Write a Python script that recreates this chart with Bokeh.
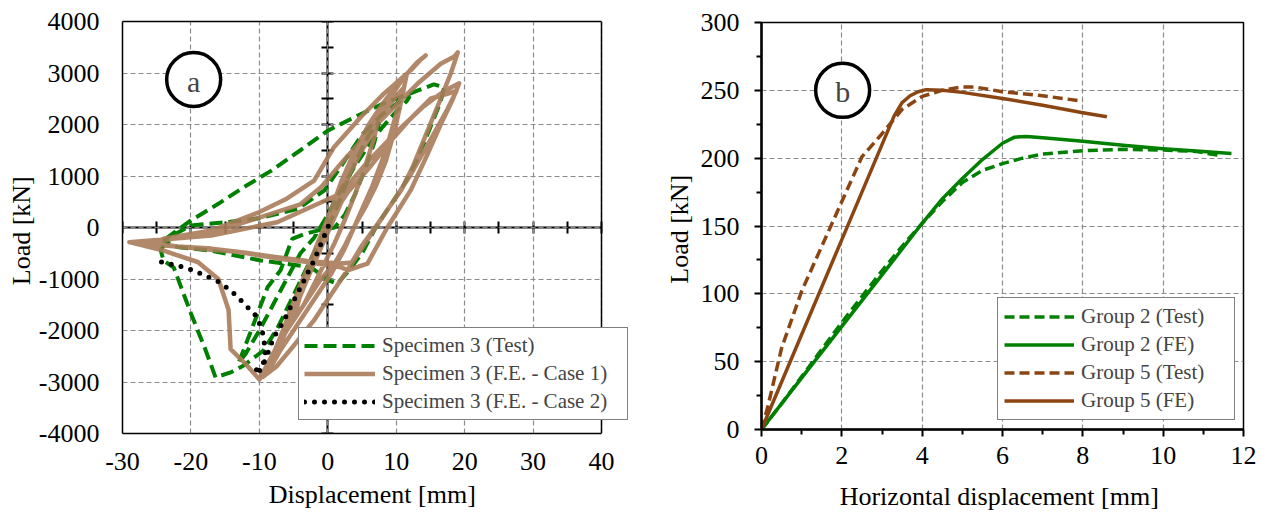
import numpy as np
from bokeh.plotting import figure
from bokeh.layouts import row
from bokeh.models import (LinearAxis, FixedTicker, Legend, LegendItem, Label, Range1d,
                          BoxAnnotation)
from bokeh.embed import file_html
from bokeh.resources import INLINE

FONT = "Liberation Serif"

# ---------------- Panel (a) data: hysteresis, Specimen 3 ----------------
test_disp = [0, 1.5, 3, 4.5, 6, 7.5,
             6.8, 5.5, 4, 2.5, 1, -1.5, -3.5, -5.2, -6.9, -8.8, -11.2, -13,
             -12, -10, -8, -6, -4, -2, 0, 2, 4, 6, 8, 10, 11.5, 12,
             10.5, 8, 5, 2, -0.5, -4.4, -10, -15, -20, -24,
             -22, -17, -9.8, -2.5, 0.2, 1.4, 3, 5, 7, 9, 11, 13, 15, 16.5, 17,
             15.5, 12, 8, 4.4, 0, -4, -8.3, -12.3, -16, -20, -23.4, -24.4, -24,
             -22.5, -20, -18, -16.4, -14.2, -12.3, -9.4, -7.3, -5.5, -3.5, -1.5, 0]
test_load = [0, 450, 950, 1400, 1800, 2050,
             1650, 1150, 650, 250, 0, -60, -130, -220, -830, -1160, -2000, -2620,
             -2450, -2000, -1500, -1000, -500, -200, 250, 750, 1200, 1600, 1950, 2250, 2450, 2550,
             2450, 2200, 1800, 1200, 720, 360, 180, 100, 40, -250,
             -380, -450, -640, -770, -1030, -1090, -850, -500, 0, 400, 800, 1300, 1950, 2450, 2720,
             2780, 2600, 2400, 2175, 1880, 1500, 1100, 780, 460, 136, -190, -450, -640,
             -780, -1670, -2330, -2910, -2815, -2680, -2390, -1940, -1450, -900, -350, 50]

fe1_disp = [0, 1.5, 3, 4.5, 6, 7.5,
            6.8, 5.5, 4, 2.5, 1, -0.5, -2, -3.5, -5,
            -4, -2.5, -1, 0.5, 2, 4, 6, 8, 10, 11.5,
            10.8, 9.8, 8.5, 7, 5.5, 4, 2.5, 1,
            -1, -3.5, -6, -8, -9.8,
            -8.5, -7, -5, -3, -1, 1, 3, 5, 8, 11, 13, 14.3,
            13.5, 12.1, 8.2, 4.8, 0.9, -2, -6, -10, -17, -24, -25.5,
            -22, -17, -12, -7.4, -3, 1.9, 3.5,
            5, 7.3, 9, 10.7, 12.5, 14.5, 16.5, 18, 19,
            18.5, 16.5, 13.1, 9.7, 5.8, 1.9, -1, -4, -9.8, -17, -24, -29,
            -23, -17, -13.2, -7.4, -3.5, 1.9, 2.9,
            5.8, 8.7, 12.1, 14.5, 16.5, 18.3, 19.2,
            17, 14, 10, 6, 1.9, -7.4, -17, -29,
            -24, -19, -16, -14.5, -14.2, -12, -10,
            -8.7, -7, -5, -3, -1, 1, 3, 5, 7,
            8.5, 10, 11,
            10, 8.5, 6.5, 4.5, 2.5, 0.5, -2, -4.5, -7, -8.5,
            -7, -5, -3, -1, 1, 3, 6, 9, 12, 15, 18.8,
            17.5, 15, 12, 9, 6, 4, 2, 0, -2, -5, -7.5, -9.5,
            -8, -6, -4, -2, 0, 2, 3.5]
fe1_load = [0, 450, 1000, 1450, 1850, 2200,
            1750, 1200, 650, 150, -300, -700, -1100, -1500, -1800,
            -1300, -750, -200, 350, 900, 1500, 2000, 2400, 2750, 2950,
            2500, 1900, 1300, 800, 400, 50, -350, -700,
            -1000, -1500, -2000, -2450, -2900,
            -2650, -2200, -1500, -800, -150, 500, 1100, 1650, 2300, 2900, 3200, 3340,
            3250, 3050, 2600, 2140, 1560, 910, 560, 300, -58, -220, -300,
            -370, -410, -490, -577, -650, -700, -680,
            -350, 70, 400, 720, 1200, 1850, 2500, 3000, 3400,
            3320, 3180, 2790, 2340, 1820, 1240, 780, 450, 200, -100, -250, -285,
            -360, -430, -470, -600, -660, -770, -830,
            -700, 0, 720, 1400, 2000, 2500, 2800,
            2650, 2350, 1850, 1300, 660, 103, -155, -285,
            -450, -670, -1000, -1600, -2360, -2650, -2950,
            -2700, -2150, -1450, -800, -200, 400, 1000, 1500, 1950,
            2300, 2550, 2700,
            2200, 1500, 800, 200, -400, -900, -1400, -1900, -2400, -2750,
            -2300, -1650, -1000, -350, 300, 700, 1150, 1650, 2100, 2500, 2650,
            2300, 1700, 1000, 400, -200, -600, -1000, -1400, -1800, -2300, -2700, -2900,
            -2500, -1900, -1300, -700, -100, 500, 900]

fe2_disp = [-24.3, -22, -20.3, -18.5, -16, -14.2, -12.8, -11.7, -10.3, -9.5, -9.1, -9.35,
            -10.3, -10.8, -10, -9.3, -8.8, -7.9, -6.4, -5.2, -4.2, -3, -2, -1, 0, 0.4]
fe2_load = [-670, -740, -800, -900, -1050, -1220, -1400, -1550, -1740, -2060, -2390, -2615,
            -2745, -2810, -2790, -2615, -2455, -2130, -1805, -1480, -1220, -900, -640, -320, 0, 150]

a_x_ticks = [-30, -20, -10, 0, 10, 20, 30, 40]
a_y_ticks = [-4000, -3000, -2000, -1000, 0, 1000, 2000, 3000, 4000]
a_x_inner_ticks = list(range(-30, 41, 5))
a_y_inner_ticks = list(range(-4000, 4001, 500))
A_XLIM = (-30, 40)
A_YLIM = (-4000, 4000)

# ---------------- Panel (b) data: monotonic curves ----------------
g2_test_disp = [0, 0.5, 1, 2, 3, 3.5, 4, 4.5, 5, 5.5, 6, 6.5, 7, 8, 9, 10, 10.8, 11.4]
g2_test_load = [0, 19, 39, 79, 117, 135, 152, 168, 182, 191, 196, 200, 203, 205.5, 206.5, 206, 205, 202]
g2_fe_disp = [0, 1, 2, 3, 4, 4.5, 5, 5.5, 6, 6.3, 6.6, 7, 8, 9, 10, 11, 11.7]
g2_fe_load = [0, 38, 76, 114, 152, 170, 185, 199, 211, 215.5, 216, 215, 212.5, 209.5, 207, 205, 203.5]
g5_test_disp = [0, 0.15, 0.5, 1, 1.5, 2, 2.5, 3, 3.5, 4, 4.5, 5, 5.3, 6, 7, 8]
g5_test_load = [0, 16, 60, 102, 135, 168, 201, 218, 236, 245.5, 250, 252.5, 252.5, 249, 246, 242]
g5_fe_disp = [0, 1, 2, 3, 3.3, 3.5, 3.7, 3.9, 4.1, 4.5, 5, 6, 7, 8, 8.6]
g5_fe_load = [0, 70, 140, 210, 231, 241, 246, 249, 250.5, 250, 248.5, 244, 239, 233.5, 230.5]

b_x_ticks = [0, 2, 4, 6, 8, 10, 12]
b_x_minor = [1, 3, 5, 7, 9, 11]
b_y_ticks = [0, 50, 100, 150, 200, 250, 300]
b_y_minor = [25, 75, 125, 175, 225, 275]

GREEN = "#008000"
TAN = "#A97B5A"
BROWN = "#8B4513"
GRID = "#8c8c8c"


def style_outer_axis(ax, tick_size="26px", label_size="26px"):
    ax.major_label_text_font = FONT
    ax.major_label_text_font_size = tick_size
    ax.major_label_text_color = "black"
    ax.major_label_text_line_height = 1.0
    ax.axis_label_text_font = FONT
    ax.axis_label_text_font_size = label_size
    ax.axis_label_text_font_style = "normal"
    ax.axis_label_text_color = "black"
    ax.axis_label_text_line_height = 1.0


def hyphen_labels(ticks):
    # plain hyphen-minus for negative tick labels, as in the reference
    return {t: str(t) for t in ticks if t < 0}


def bare_axis(**kw):
    # axis used only as a line (frame edges / crossing axes)
    base = dict(major_label_text_font_size="0px", major_label_standoff=0,
                major_label_text_color=None, minor_tick_line_color=None,
                axis_label=None)
    base.update(kw)
    return LinearAxis(**base)


def no_frame_align(p):
    try:
        p.frame_align = False
    except Exception:
        pass


# ---------------- Figure (a) ----------------
# frame spans 122..628 px horizontally; the data box covers -30..40
A_FRAME_W = 628 - 122
A_XEND = A_XLIM[0] + (A_XLIM[1] - A_XLIM[0]) * A_FRAME_W / (601 - 122)
pa = figure(width=640, height=518, x_range=Range1d(A_XLIM[0], A_XEND),
            y_range=Range1d(*A_YLIM),
            output_backend="svg", toolbar_location=None,
            min_border_left=122, min_border_right=12, min_border_top=21, min_border_bottom=85)
pa.outline_line_color = None
no_frame_align(pa)

for ax in pa.xaxis + pa.yaxis:
    style_outer_axis(ax)
    ax.axis_line_color = "black"
    ax.axis_line_width = 1.5
    ax.major_tick_line_color = None
    ax.minor_tick_line_color = None
    ax.major_tick_out = 0
    ax.major_tick_in = 0
pa.xaxis.bounds = A_XLIM
pa.xaxis.ticker = FixedTicker(ticks=a_x_ticks)
pa.yaxis.ticker = FixedTicker(ticks=a_y_ticks)
pa.xaxis.major_label_overrides = hyphen_labels(a_x_ticks)
pa.yaxis.major_label_overrides = hyphen_labels(a_y_ticks)
pa.xaxis.axis_label = "Displacement  [mm]"
pa.yaxis.axis_label = "Load  [kN]"
pa.xaxis.major_label_standoff = 19
pa.yaxis.major_label_standoff = 23
pa.xaxis.axis_label_standoff = 7
pa.yaxis.axis_label_standoff = 0

pa.xgrid.ticker = FixedTicker(ticks=a_x_ticks)
pa.ygrid.ticker = FixedTicker(ticks=a_y_ticks)
need_mask = False
for g in pa.xgrid + pa.ygrid:
    g.grid_line_color = GRID
    g.grid_line_dash = "5 3"
    g.grid_line_width = 1.2
try:
    pa.ygrid[0].cross_bounds = A_XLIM
except Exception:
    need_mask = True
if need_mask:
    pa.add_layout(BoxAnnotation(left=A_XLIM[1], fill_color="white", fill_alpha=1,
                                line_color=None, level="underlay"))

# top edge and right edge of the data box
top_edge = bare_axis(bounds=A_XLIM, major_tick_line_color=None, major_tick_out=0,
                     major_tick_in=0, axis_line_color="black", axis_line_width=1.5,
                     ticker=FixedTicker(ticks=a_x_ticks))
right_edge = bare_axis(fixed_location=A_XLIM[1], bounds=A_YLIM, major_tick_line_color=None,
                       major_tick_out=0, major_tick_in=0, axis_line_color="black",
                       axis_line_width=1.5, ticker=FixedTicker(ticks=a_y_ticks))
pa.add_layout(top_edge, "above")
pa.add_layout(right_edge, "right")

inner_x = bare_axis(fixed_location=0, ticker=FixedTicker(ticks=a_x_inner_ticks),
                    bounds=A_XLIM, major_tick_in=6, major_tick_out=6, axis_line_width=2,
                    major_tick_line_width=2, level="underlay")
inner_y = bare_axis(fixed_location=0, ticker=FixedTicker(ticks=a_y_inner_ticks),
                    bounds=A_YLIM, major_tick_in=6, major_tick_out=6, axis_line_width=2,
                    major_tick_line_width=2, level="underlay")
pa.add_layout(inner_x, "above")
pa.add_layout(inner_y, "right")

r_test = pa.line(test_disp, test_load, line_color=GREEN, line_width=4, line_dash="13 6")
r_fe1 = pa.line(fe1_disp, fe1_load, line_color=TAN, line_width=4.5, line_alpha=0.9,
                line_join="round")
r_fe2 = pa.line(fe2_disp, fe2_load, line_color="black", line_width=5, line_dash="0 10",
                line_cap="round")

# circled panel letter (a)
A_TAG = (-19.6, 2874)
pa.scatter([A_TAG[0]], [A_TAG[1]], marker="circle", size=54, fill_color="white",
           line_color="black", line_width=3.5)
pa.add_layout(Label(x=A_TAG[0], y=A_TAG[1], text="a", text_font=FONT, text_font_size="30px",
                    text_align="center", text_baseline="middle", y_offset=-2))

leg_a = Legend(items=[LegendItem(label="Specimen 3 (Test)", renderers=[r_test]),
                      LegendItem(label="Specimen 3 (F.E. - Case 1)", renderers=[r_fe1]),
                      LegendItem(label="Specimen 3 (F.E. - Case 2)", renderers=[r_fe2])],
               location=(176, 13), label_text_font=FONT, label_text_font_size="21px",
               glyph_width=71, glyph_height=25, padding=5, spacing=3, label_standoff=7,
               label_width=240, margin=0, border_line_color="black", border_line_width=1.5,
               background_fill_color="white", background_fill_alpha=1)
pa.add_layout(leg_a)

# ---------------- Figure (b) ----------------
pb = figure(width=627, height=518, x_range=Range1d(0, 12), y_range=Range1d(0, 300),
            output_backend="svg", toolbar_location=None,
            min_border_left=121, min_border_right=24, min_border_top=22, min_border_bottom=89)
pb.outline_line_color = "black"
pb.outline_line_width = 1.5
pb.outline_line_alpha = 1
no_frame_align(pb)
for ax in pb.xaxis + pb.yaxis:
    style_outer_axis(ax)
    ax.axis_line_width = 2.5
    ax.major_tick_line_width = 2
    ax.minor_tick_line_width = 2
    ax.major_tick_in = 0
    ax.minor_tick_in = 0
    ax.major_tick_out = 7
    ax.minor_tick_out = 5
pb.xaxis.ticker = FixedTicker(ticks=b_x_ticks, minor_ticks=b_x_minor)
pb.yaxis.ticker = FixedTicker(ticks=b_y_ticks, minor_ticks=b_y_minor)
pb.xaxis.axis_label = "Horizontal displacement  [mm]"
pb.yaxis.axis_label = "Load  [kN]"
pb.xaxis.major_label_standoff = 10
pb.yaxis.major_label_standoff = 15
pb.xaxis.axis_label_standoff = 15
pb.yaxis.axis_label_standoff = 4
pb.xgrid.ticker = FixedTicker(ticks=b_x_ticks)
pb.ygrid.ticker = FixedTicker(ticks=b_y_ticks)
for g in pb.xgrid + pb.ygrid:
    g.grid_line_color = GRID
    g.grid_line_dash = "5 3"
    g.grid_line_width = 1.2

r_g2t = pb.line(g2_test_disp, g2_test_load, line_color=GREEN, line_width=3.5, line_dash="10 5")
r_g2f = pb.line(g2_fe_disp, g2_fe_load, line_color=GREEN, line_width=3.5, line_join="round")
r_g5t = pb.line(g5_test_disp, g5_test_load, line_color=BROWN, line_width=3.5, line_dash="10 5")
r_g5f = pb.line(g5_fe_disp, g5_fe_load, line_color=BROWN, line_width=3.5, line_join="round")

B_TAG = (2.02, 250)
pb.scatter([B_TAG[0]], [B_TAG[1]], marker="circle", size=54, fill_color="white",
           line_color="black", line_width=3.5)
pb.add_layout(Label(x=B_TAG[0], y=B_TAG[1], text="b", text_font=FONT, text_font_size="30px",
                    text_align="center", text_baseline="middle", y_offset=-1))

leg_b = Legend(items=[LegendItem(label="Group 2 (Test)", renderers=[r_g2t]),
                      LegendItem(label="Group 2 (FE)", renderers=[r_g2f]),
                      LegendItem(label="Group 5 (Test)", renderers=[r_g5t]),
                      LegendItem(label="Group 5 (FE)", renderers=[r_g5f])],
               location=(236, 9), label_text_font=FONT, label_text_font_size="21px",
               glyph_width=70, glyph_height=23, padding=6, spacing=3, label_standoff=7,
               label_width=147, margin=0, border_line_color="black", border_line_width=1.5,
               background_fill_color="white", background_fill_alpha=1)
pb.add_layout(leg_b)

layout = row(pa, pb)
open("out.html", "w").write(file_html(layout, INLINE))
